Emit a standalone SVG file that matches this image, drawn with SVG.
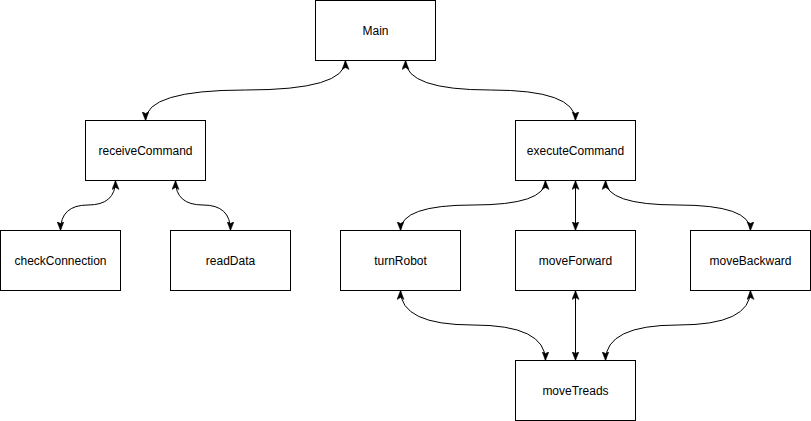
<svg xmlns="http://www.w3.org/2000/svg" width="811" height="421" viewBox="0 0 811 421">
<style>
.node rect{fill:#fff;stroke:#000;stroke-width:1}
.node text{font-family:"Liberation Sans",Arial,sans-serif;font-size:12px;fill:#000;text-anchor:middle;dominant-baseline:central}
.edge{fill:none;stroke:#000;stroke-width:1;marker-start:url(#arr);marker-end:url(#arr)}
</style>
<defs>
<marker id="arr" markerUnits="userSpaceOnUse" markerWidth="10" markerHeight="8" refX="9" refY="3.5" orient="auto-start-reverse" viewBox="0 0 10 8">
<path d="M0,0 L9,3.5 L0,7 L2,3.5 Z" fill="#000" stroke="#000" stroke-width="0.5"/>
</marker>
</defs>
<rect width="811" height="421" fill="#fff"/>
<g id="connectors">
<path class="edge" d="M345.5,60.5 Q345.5,90 245.5,90 Q145.5,90 145.5,120.5"/>
<path class="edge" d="M405.5,60.5 Q405.5,90 490.5,90 Q575.5,90 575.5,120.5"/>
<path class="edge" d="M115.5,180.5 Q115.5,205 88,205 Q60.5,205 60.5,230.5"/>
<path class="edge" d="M175.5,180.5 Q175.5,205 203,205 Q230.5,205 230.5,230.5"/>
<path class="edge" d="M545.5,180.5 Q545.5,205 473,205 Q400.5,205 400.5,230.5"/>
<path class="edge" d="M575.5,180.5 L575.5,230.5"/>
<path class="edge" d="M605.5,180.5 Q605.5,205 678,205 Q750.5,205 750.5,230.5"/>
<path class="edge" d="M400.5,290.5 Q400.5,325 473,325 Q545.5,325 545.5,360.5"/>
<path class="edge" d="M575.5,290.5 L575.5,360.5"/>
<path class="edge" d="M750.5,290.5 Q750.5,325 678,325 Q605.5,325 605.5,360.5"/>
</g>
<g id="main" class="node"><rect x="315.5" y="0.5" width="120" height="60"/><text x="375.5" y="30.5">Main</text></g>
<g id="receiveCommand" class="node"><rect x="85.5" y="120.5" width="120" height="60"/><text x="145.5" y="150.5">receiveCommand</text></g>
<g id="executeCommand" class="node"><rect x="515.5" y="120.5" width="120" height="60"/><text x="575.5" y="150.5">executeCommand</text></g>
<g id="checkConnection" class="node"><rect x="0.5" y="230.5" width="120" height="60"/><text x="60.5" y="260.5">checkConnection</text></g>
<g id="readData" class="node"><rect x="170.5" y="230.5" width="120" height="60"/><text x="230.5" y="260.5">readData</text></g>
<g id="turnRobot" class="node"><rect x="340.5" y="230.5" width="120" height="60"/><text x="400.5" y="260.5">turnRobot</text></g>
<g id="moveForward" class="node"><rect x="515.5" y="230.5" width="120" height="60"/><text x="575.5" y="260.5">moveForward</text></g>
<g id="moveBackward" class="node"><rect x="690.5" y="230.5" width="120" height="60"/><text x="750.5" y="260.5">moveBackward</text></g>
<g id="moveTreads" class="node"><rect x="515.5" y="360.5" width="120" height="60"/><text x="575.5" y="390.5">moveTreads</text></g>
</svg>
